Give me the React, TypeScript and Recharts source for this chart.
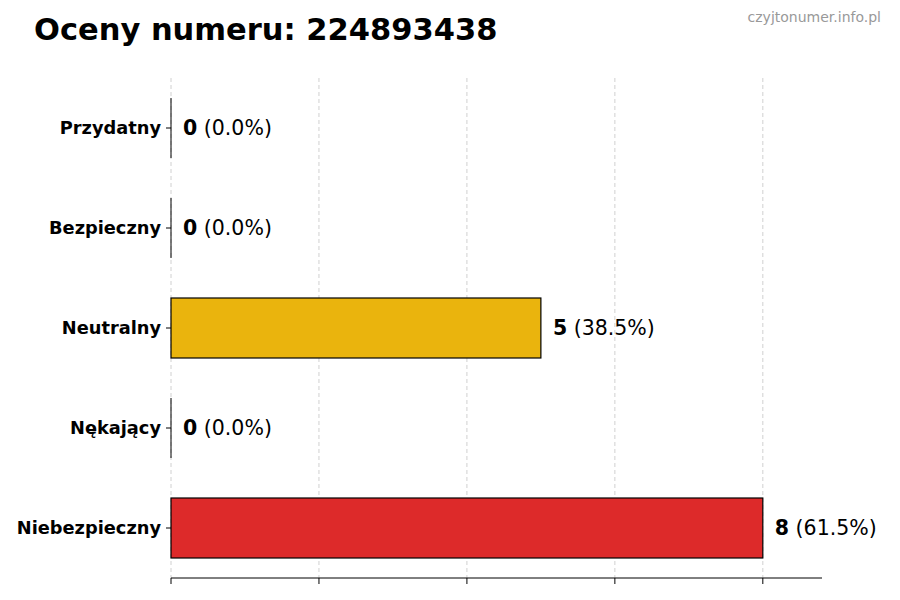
import React from 'react';
import { BarChart, Bar, XAxis, YAxis, CartesianGrid, LabelList, Cell } from 'recharts';

const categories = ['Przydatny', 'Bezpieczny', 'Neutralny', 'Nękający', 'Niebezpieczny'];
const counts = [0, 0, 5, 0, 8];
const percents = ['0.0%', '0.0%', '38.5%', '0.0%', '61.5%'];
const colors = ['#16a34a', '#2563eb', '#eab308', '#ea580c', '#dc2626'];
const xTicks = [0, 2, 4, 6, 8];

const data = categories.map((name, i) => ({ name, value: counts[i], pct: percents[i] }));

const FONT = '"DejaVu Sans", sans-serif';

// zero-width bars still show their black edge, so draw it ourselves
const BarShape = (props: any) => {
  const { x, y, width, height, fill } = props;
  if (!width) {
    return <line x1={x} x2={x} y1={y} y2={y + height} stroke="#000" strokeWidth={1} />;
  }
  return <rect x={x} y={y} width={width} height={height} fill={fill} fillOpacity={0.98} stroke="#000" strokeWidth={1.2} />;
};

const ValueLabel = (props: any) => {
  const { x, y, width, height, index } = props;
  const d = data[index];
  return (
    <text x={x + width + 12} y={y + height / 2} dominantBaseline="central" fontFamily={FONT} fontSize={20.5} fill="#000">
      <tspan fontWeight="bold">{d.value}</tspan>
      <tspan> ({d.pct})</tspan>
    </text>
  );
};

const gridX = (props: any) => {
  const axis = props.xAxis;
  if (axis && typeof axis.scale === 'function') return xTicks.map((t) => axis.scale(t));
  const left = props.offset.left;
  const w = props.offset.width;
  return xTicks.map((t) => left + (t / 8.8) * w);
};

export default function App() {
  return (
    <div style={{ position: 'absolute', top: 0, left: 0, width: 900, height: 600, background: '#fff', fontFamily: FONT }}>
      <div style={{ position: 'absolute', left: 34, top: 12, fontSize: 30.5, lineHeight: '36px', fontWeight: 'bold', color: '#000', whiteSpace: 'nowrap' }}>
        Oceny numeru: 224893438
      </div>
      <div style={{ position: 'absolute', right: 19, top: 9, fontSize: 14, color: '#999' }}>czyjtonumer.info.pl</div>
      <BarChart
        width={900}
        height={600}
        data={data}
        layout="vertical"
        margin={{ top: 78, right: 78, bottom: 20, left: 0 }}
        barCategoryGap={0}
      >
        <CartesianGrid horizontal={false} stroke="#d0d0d0" strokeDasharray="4 3" verticalCoordinatesGenerator={gridX} />
        <XAxis
          type="number"
          domain={[0, 8.8]}
          ticks={xTicks}
          tickFormatter={() => ''}
          axisLine={{ stroke: '#000' }}
          tickLine={{ stroke: '#000' }}
          tickSize={6}
          height={2}
        />
        <YAxis
          type="category"
          dataKey="name"
          width={171}
          axisLine={false}
          tickLine={{ stroke: '#000' }}
          tickSize={5}
          tick={{ fill: '#000', fontSize: 17.8, fontWeight: 'bold', fontFamily: FONT, dx: -3 }}
        />
        <Bar dataKey="value" barSize={60} isAnimationActive={false} shape={<BarShape />}>
          {data.map((d, i) => (
            <Cell key={d.name} fill={colors[i]} />
          ))}
          <LabelList dataKey="value" content={<ValueLabel />} />
        </Bar>
      </BarChart>
    </div>
  );
}
